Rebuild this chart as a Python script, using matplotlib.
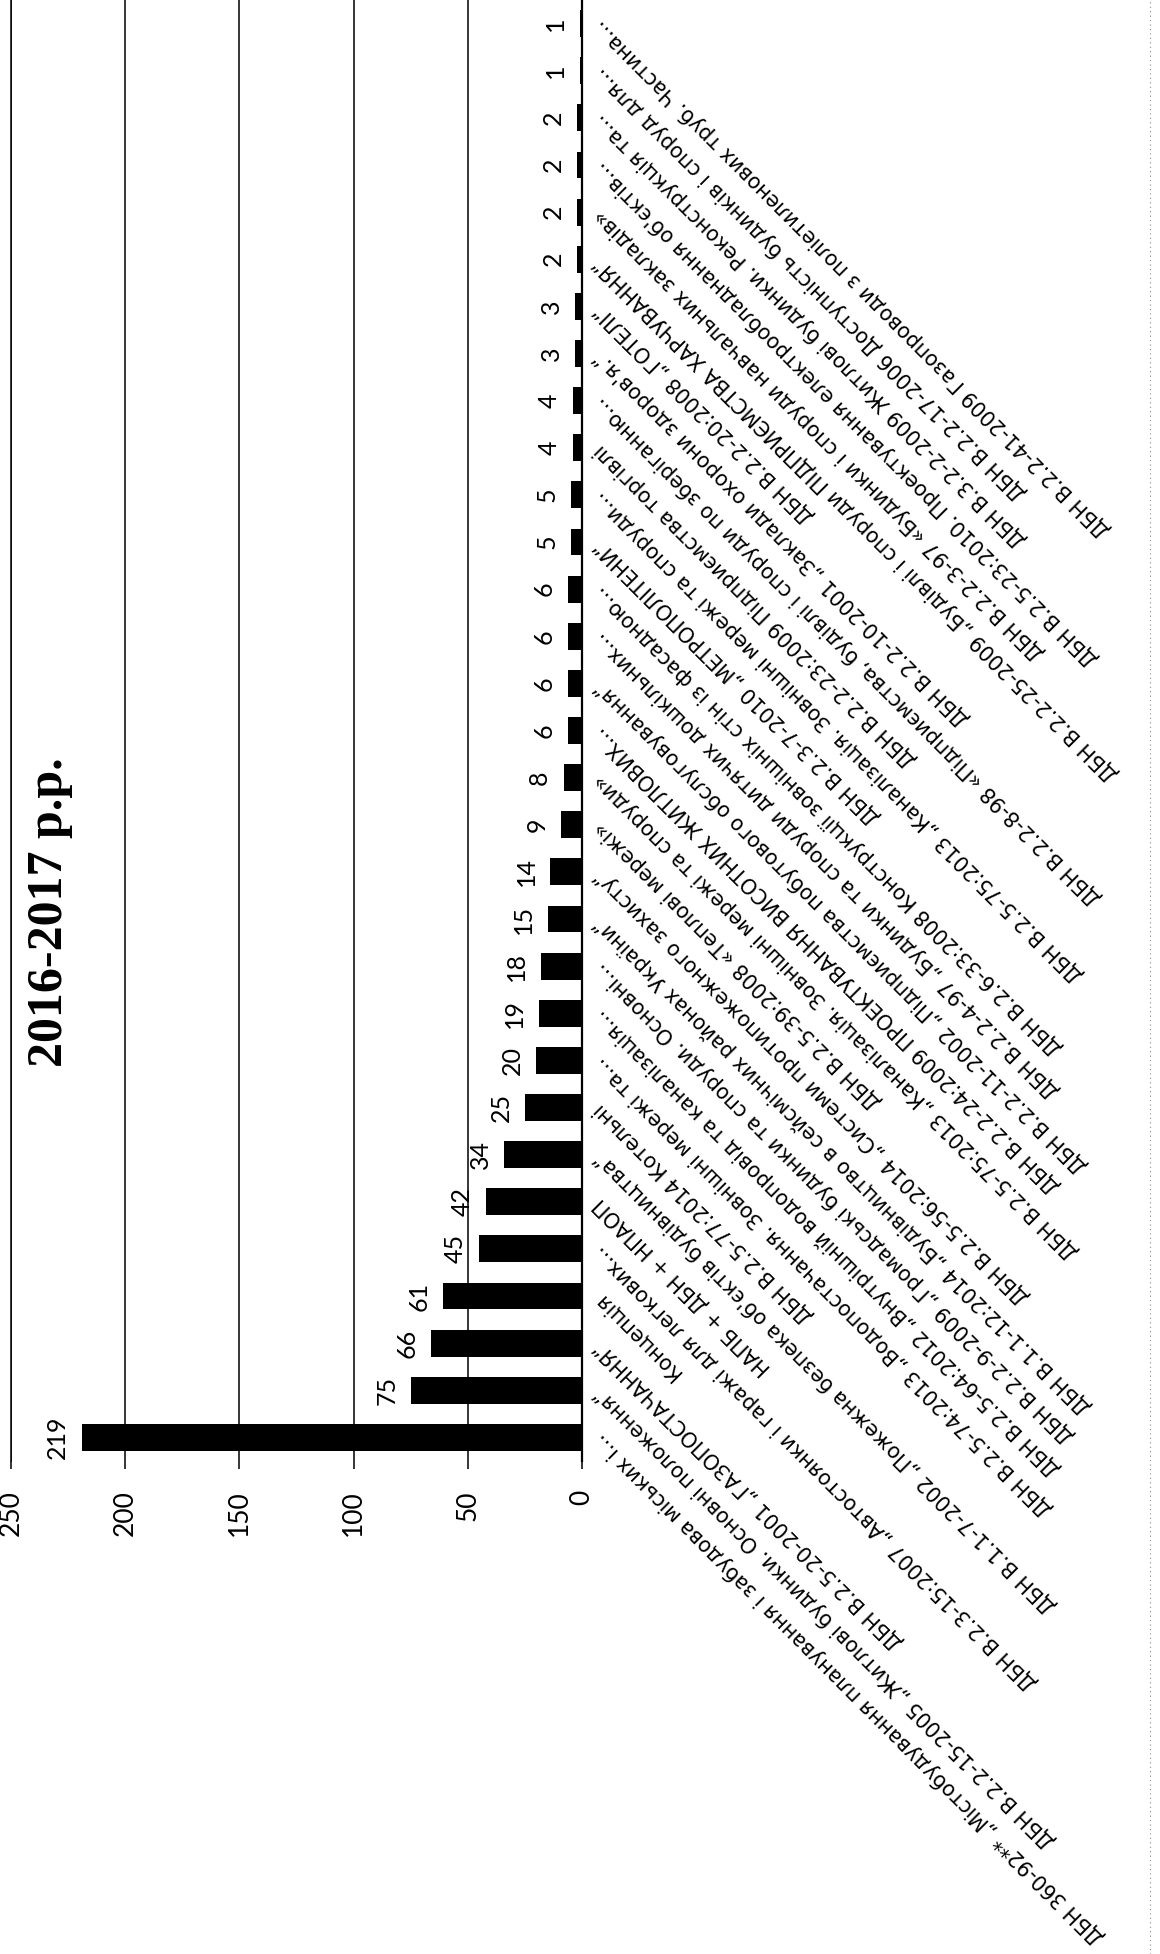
import matplotlib
matplotlib.use("Agg")
import matplotlib.pyplot as plt
from matplotlib.lines import Line2D

W, H = 1160, 1954

# values from the largest (bottom bar) to the smallest (top bar)
values = [219, 75, 66, 61, 45, 42, 34, 25, 20, 19, 18, 15, 14, 9, 8,
          6, 6, 6, 6, 5, 5, 4, 4, 3, 3, 2, 2, 2, 2, 1, 1]

labels = [
    "ДБН 360-92** „Містобудування планування і забудова міських і...",
    "ДБН В.2.2-15-2005 „Житлові будинки. Основні положення“",
    "ДБН В.2.5-20-2001 „ГАЗОПОСТАЧАННЯ“",
    "Концепція",
    "ДБН В.2.3-15:2007 „Автостоянки і гаражі для легкових...",
    "НАПБ + ДБН + НПАОП",
    "ДБН В.1.1-7-2002 „Пожежна безпека об'єктів будівництва“",
    "ДБН В.2.5-77:2014 Котельні",
    "ДБН В.2.5-74:2013 „Водопостачання. Зовнішні мережі та...",
    "ДБН В.2.5-64:2012 „Внутрішній водопровід та каналізація...",
    "ДБН В.2.2-9-2009 „Громадські будинки та споруди. Основні...",
    "ДБН В.1.1-12:2014 „Будівництво в сейсмічних районах України“",
    "ДБН В.2.5-56:2014 „Системи протипожежного захисту“",
    "ДБН В.2.5-39:2008 «Теплові мережі»",
    "ДБН В.2.5-75:2013 „Каналізація. Зовнішні мережі та споруди»",
    "ДБН В.2.2-24:2009 ПРОЕКТУВАННЯ ВИСОТНИХ ЖИТЛОВИХ...",
    "ДБН В.2.2-11-2002 „Підприємства побутового обслуговування“",
    "ДБН В.2.2-4-97 „Будинки та споруди дитячих дошкільних...",
    "ДБН В.2.6-33:2008 Конструкції зовнішніх стін із фасадною...",
    "ДБН В.2.3-7-2010 „МЕТРОПОЛІТЕНИ“",
    "ДБН В.2.5-75:2013 „Каналізація. Зовнішні мережі та споруди...",
    "ДБН В.2.2-23:2009 Підприємства торгівлі",
    "ДБН В.2.2-8-98 «Підприємства, будівлі і споруди по зберіганню...",
    "ДБН В.2.2-10-2001 „Заклади охорони здоров'я.“",
    "ДБН В.2.2-20:2008 „ГОТЕЛІ“",
    "ДБН В.2.2-25-2009 „Будівлі і споруди ПІДПРИЄМСТВА ХАРЧУВАННЯ“",
    "ДБН В.2.2-3-97 «Будинки і споруди навчальних закладів»",
    "ДБН В.2.5-23:2010. Проектування електрообладнання об'єктів...",
    "ДБН В.3.2-2-2009 Житлові будинки. Реконструкція та...",
    "ДБН В.2.2-17-2006 Доступність будинків і споруд для...",
    "ДБН В.2.2-41-2009 Газопроводи з поліетиленових труб. Частина...",
]

value_ticks = [0, 50, 100, 150, 200, 250]
title = "2016-2017 р.р."

fig = plt.figure(figsize=(W / 100, H / 100), dpi=100)
fig.patch.set_facecolor("white")

# plot area in pixels: x 11..582, y 0..1461 (from top)
ax = fig.add_axes([11 / W, (H - 1461) / H, 571 / W, 1461 / H])
pos = list(range(len(values)))
bars = ax.barh(pos, values, height=0.57, color="black", zorder=3)
ax.set_xlim(250, 0)
ax.set_ylim(-0.5, len(values) - 0.5)

ax.set_xticks(value_ticks)
ax.set_xticklabels([str(v) for v in value_ticks], rotation=90,
                   fontsize=19, family=["Lato", "DejaVu Sans"])
ax.tick_params(axis="x", direction="out", length=6, width=1.1, pad=15,
               color="black")
ax.xaxis.grid(True, color="black", linewidth=1.1, zorder=1)

ax.set_yticks(pos)
ax.set_yticklabels(labels, fontsize=14.8, family="DejaVu Sans")
ax.yaxis.tick_right()
ax.tick_params(axis="y", length=0, pad=11)
for t in ax.get_yticklabels():
    t.set_rotation(135)
    t.set_rotation_mode("anchor")
    t.set_ha("right")
    t.set_va("center")

for s in ["top", "bottom"]:
    ax.spines[s].set_visible(False)
ax.spines["left"].set_linewidth(1.1)
ax.spines["right"].set_linewidth(1.6)

ax.bar_label(bars, labels=[str(v) for v in values], padding=9, rotation=90,
             fontsize=18, family=["Lato", "DejaVu Sans"])

fig.text(50 / W, 1 - 912 / H, title, rotation=90, ha="center", va="center",
         fontsize=36, fontweight="bold", family="Liberation Serif",
         zorder=5)

# dotted page edge of the scan
fig.add_artist(Line2D([1150 / W, 1150 / W], [0.0, 1.0], color="#888888",
                      linewidth=0.8, linestyle=(0, (1, 3))))

fig.savefig("out.png", dpi=100, facecolor="white")
